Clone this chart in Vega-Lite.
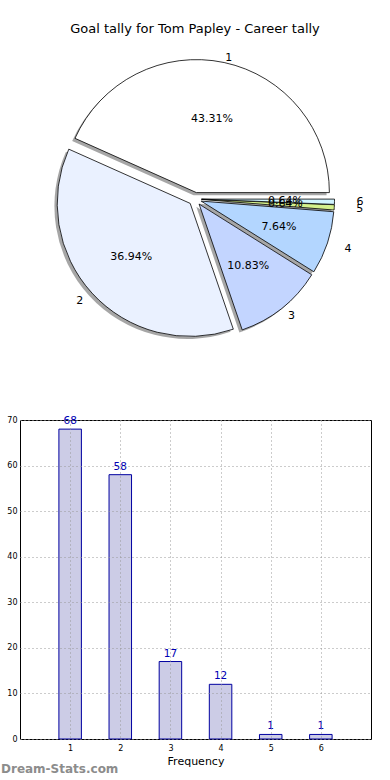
{
  "$schema": "https://vega.github.io/schema/vega-lite/v6.json",
  "padding": {"top": 22, "left": 0, "right": 0, "bottom": 0},
  "spacing": 66,
  "config": {
    "font": "DejaVu Sans",
    "view": {"stroke": null},
    "title": {"fontSize": 13, "fontWeight": "normal", "color": "black"}
  },
  "datasets": {
    "goals": [
      {"k": 1, "v": 68, "p": 0.4331},
      {"k": 2, "v": 58, "p": 0.3694},
      {"k": 3, "v": 17, "p": 0.1083},
      {"k": 4, "v": 12, "p": 0.0764},
      {"k": 5, "v": 1, "p": 0.0064},
      {"k": 6, "v": 1, "p": 0.0064}
    ]
  },
  "vconcat": [
    {
      "width": 350,
      "height": 300,
      "title": {"text": "Goal tally for Tom Papley - Career tally", "anchor": "middle", "frame": "group", "offset": 6},
      "data": {"name": "goals"},
      "transform": [
        {"stack": "v", "groupby": [], "as": ["s0", "s1"], "sort": [{"field": "k", "order": "ascending"}]}
      ],
      "layer": [
        {"transform": [{"filter": "datum.k==1"}], "mark": {"type": "arc", "radius": 133, "fill": "black", "opacity": 0.35, "xOffset": -1.4, "yOffset": -3.8},
         "encoding": {"theta": {"field": "s0", "type": "quantitative", "scale": {"domain": [0, 157], "range": [1.5707963, -4.712389]}}, "theta2": {"field": "s1"}}},
        {"transform": [{"filter": "datum.k==2"}], "mark": {"type": "arc", "radius": 133, "fill": "black", "opacity": 0.35, "xOffset": -7.6, "yOffset": 7.0},
         "encoding": {"theta": {"field": "s0", "type": "quantitative", "scale": {"domain": [0, 157], "range": [1.5707963, -4.712389]}}, "theta2": {"field": "s1"}}},
        {"transform": [{"filter": "datum.k==3"}], "mark": {"type": "arc", "radius": 133, "fill": "black", "opacity": 0.35, "xOffset": 1.3, "yOffset": 7.7},
         "encoding": {"theta": {"field": "s0", "type": "quantitative", "scale": {"domain": [0, 157], "range": [1.5707963, -4.712389]}}, "theta2": {"field": "s1"}}},
        {"transform": [{"filter": "datum.k==4"}], "mark": {"type": "arc", "radius": 133, "fill": "black", "opacity": 0.35, "xOffset": 3.4, "yOffset": 4.7},
         "encoding": {"theta": {"field": "s0", "type": "quantitative", "scale": {"domain": [0, 157], "range": [1.5707963, -4.712389]}}, "theta2": {"field": "s1"}}},
        {"transform": [{"filter": "datum.k==5"}], "mark": {"type": "arc", "radius": 133, "fill": "black", "opacity": 0.35, "xOffset": 3.7, "yOffset": 3.0},
         "encoding": {"theta": {"field": "s0", "type": "quantitative", "scale": {"domain": [0, 157], "range": [1.5707963, -4.712389]}}, "theta2": {"field": "s1"}}},
        {"transform": [{"filter": "datum.k==6"}], "mark": {"type": "arc", "radius": 133, "fill": "black", "opacity": 0.35, "xOffset": 3.7, "yOffset": 2.7},
         "encoding": {"theta": {"field": "s0", "type": "quantitative", "scale": {"domain": [0, 157], "range": [1.5707963, -4.712389]}}, "theta2": {"field": "s1"}}},

        {"transform": [{"filter": "datum.k==1"}], "mark": {"type": "arc", "radius": 133, "stroke": "black", "strokeWidth": 0.8, "opacity": 1, "xOffset": 1.4, "yOffset": -6.4},
         "encoding": {"theta": {"field": "s0", "type": "quantitative", "scale": {"domain": [0, 157], "range": [1.5707963, -4.712389]}}, "theta2": {"field": "s1"},
                      "color": {"field": "k", "type": "nominal", "scale": {"domain": [1, 2, 3, 4, 5, 6], "range": ["#ffffff", "#eaf1ff", "#c3d5ff", "#b3d6ff", "#d4f08c", "#d0f4ff"]}, "legend": null}}},
        {"transform": [{"filter": "datum.k==2"}], "mark": {"type": "arc", "radius": 133, "stroke": "black", "strokeWidth": 0.8, "opacity": 1, "xOffset": -4.8, "yOffset": 4.4},
         "encoding": {"theta": {"field": "s0", "type": "quantitative", "scale": {"domain": [0, 157], "range": [1.5707963, -4.712389]}}, "theta2": {"field": "s1"},
                      "color": {"field": "k", "type": "nominal", "legend": null}}},
        {"transform": [{"filter": "datum.k==3"}], "mark": {"type": "arc", "radius": 133, "stroke": "black", "strokeWidth": 0.8, "opacity": 1, "xOffset": 4.1, "yOffset": 5.1},
         "encoding": {"theta": {"field": "s0", "type": "quantitative", "scale": {"domain": [0, 157], "range": [1.5707963, -4.712389]}}, "theta2": {"field": "s1"},
                      "color": {"field": "k", "type": "nominal", "legend": null}}},
        {"transform": [{"filter": "datum.k==4"}], "mark": {"type": "arc", "radius": 133, "stroke": "black", "strokeWidth": 0.8, "opacity": 1, "xOffset": 6.2, "yOffset": 2.1},
         "encoding": {"theta": {"field": "s0", "type": "quantitative", "scale": {"domain": [0, 157], "range": [1.5707963, -4.712389]}}, "theta2": {"field": "s1"},
                      "color": {"field": "k", "type": "nominal", "legend": null}}},
        {"transform": [{"filter": "datum.k==5"}], "mark": {"type": "arc", "radius": 133, "stroke": "black", "strokeWidth": 0.8, "opacity": 1, "xOffset": 6.5, "yOffset": 0.4},
         "encoding": {"theta": {"field": "s0", "type": "quantitative", "scale": {"domain": [0, 157], "range": [1.5707963, -4.712389]}}, "theta2": {"field": "s1"},
                      "color": {"field": "k", "type": "nominal", "legend": null}}},
        {"transform": [{"filter": "datum.k==6"}], "mark": {"type": "arc", "radius": 133, "stroke": "black", "strokeWidth": 0.8, "opacity": 1, "xOffset": 6.5, "yOffset": 0.1},
         "encoding": {"theta": {"field": "s0", "type": "quantitative", "scale": {"domain": [0, 157], "range": [1.5707963, -4.712389]}}, "theta2": {"field": "s1"},
                      "color": {"field": "k", "type": "nominal", "legend": null}}},

        {"mark": {"type": "text", "radius": 75, "fontSize": 11, "color": "black", "xOffset": 1.4, "yOffset": -6.4},
         "encoding": {"theta": {"field": "v", "type": "quantitative", "stack": true, "scale": {"domain": [0, 157], "range": [1.5707963, -4.712389]}}, "order": {"field": "k"}, "detail": {"field": "k", "type": "nominal"},
                      "text": {"condition": {"test": "datum.k==1", "field": "p", "format": ".2%"}, "value": ""}}},
        {"mark": {"type": "text", "radius": 80, "fontSize": 11, "color": "black", "xOffset": -4.8, "yOffset": 4.4},
         "encoding": {"theta": {"field": "v", "type": "quantitative", "stack": true, "scale": {"domain": [0, 157], "range": [1.5707963, -4.712389]}}, "order": {"field": "k"}, "detail": {"field": "k", "type": "nominal"},
                      "text": {"condition": {"test": "datum.k==2", "field": "p", "format": ".2%"}, "value": ""}}},
        {"mark": {"type": "text", "radius": 79, "fontSize": 11, "color": "black", "xOffset": 4.1, "yOffset": 5.1},
         "encoding": {"theta": {"field": "v", "type": "quantitative", "stack": true, "scale": {"domain": [0, 157], "range": [1.5707963, -4.712389]}}, "order": {"field": "k"}, "detail": {"field": "k", "type": "nominal"},
                      "text": {"condition": {"test": "datum.k==3", "field": "p", "format": ".2%"}, "value": ""}}},
        {"mark": {"type": "text", "radius": 82, "fontSize": 11, "color": "black", "xOffset": 6.2, "yOffset": 2.1},
         "encoding": {"theta": {"field": "v", "type": "quantitative", "stack": true, "scale": {"domain": [0, 157], "range": [1.5707963, -4.712389]}}, "order": {"field": "k"}, "detail": {"field": "k", "type": "nominal"},
                      "text": {"condition": {"test": "datum.k==4", "field": "p", "format": ".2%"}, "value": ""}}},
        {"mark": {"type": "text", "radius": 84, "fontSize": 11, "color": "black", "xOffset": 6.5, "yOffset": 0.4},
         "encoding": {"theta": {"field": "v", "type": "quantitative", "stack": true, "scale": {"domain": [0, 157], "range": [1.5707963, -4.712389]}}, "order": {"field": "k"}, "detail": {"field": "k", "type": "nominal"},
                      "text": {"condition": {"test": "datum.k==5", "field": "p", "format": ".2%"}, "value": ""}}},
        {"mark": {"type": "text", "radius": 84, "fontSize": 11, "color": "black", "xOffset": 6.5, "yOffset": 0.1},
         "encoding": {"theta": {"field": "v", "type": "quantitative", "stack": true, "scale": {"domain": [0, 157], "range": [1.5707963, -4.712389]}}, "order": {"field": "k"}, "detail": {"field": "k", "type": "nominal"},
                      "text": {"condition": {"test": "datum.k==6", "field": "p", "format": ".2%"}, "value": ""}}},

        {"mark": {"type": "text", "radius": 138, "fontSize": 11, "color": "black", "align": "left", "xOffset": 1.4, "yOffset": -6.4},
         "encoding": {"theta": {"field": "v", "type": "quantitative", "stack": true, "scale": {"domain": [0, 157], "range": [1.5707963, -4.712389]}}, "order": {"field": "k"}, "detail": {"field": "k", "type": "nominal"},
                      "text": {"condition": {"test": "datum.k==1", "field": "k"}, "value": ""}}},
        {"mark": {"type": "text", "radius": 145, "fontSize": 11, "color": "black", "align": "right", "xOffset": -4.8, "yOffset": 4.4},
         "encoding": {"theta": {"field": "v", "type": "quantitative", "stack": true, "scale": {"domain": [0, 157], "range": [1.5707963, -4.712389]}}, "order": {"field": "k"}, "detail": {"field": "k", "type": "nominal"},
                      "text": {"condition": {"test": "datum.k==2", "field": "k"}, "value": ""}}},
        {"mark": {"type": "text", "radius": 143, "fontSize": 11, "color": "black", "align": "left", "xOffset": 4.1, "yOffset": 5.1},
         "encoding": {"theta": {"field": "v", "type": "quantitative", "stack": true, "scale": {"domain": [0, 157], "range": [1.5707963, -4.712389]}}, "order": {"field": "k"}, "detail": {"field": "k", "type": "nominal"},
                      "text": {"condition": {"test": "datum.k==3", "field": "k"}, "value": ""}}},
        {"mark": {"type": "text", "radius": 151, "fontSize": 11, "color": "black", "align": "left", "xOffset": 6.2, "yOffset": 2.1},
         "encoding": {"theta": {"field": "v", "type": "quantitative", "stack": true, "scale": {"domain": [0, 157], "range": [1.5707963, -4.712389]}}, "order": {"field": "k"}, "detail": {"field": "k", "type": "nominal"},
                      "text": {"condition": {"test": "datum.k==4", "field": "k"}, "value": ""}}},
        {"mark": {"type": "text", "radius": 155, "fontSize": 11, "color": "black", "align": "left", "xOffset": 6.5, "yOffset": 0.4},
         "encoding": {"theta": {"field": "v", "type": "quantitative", "stack": true, "scale": {"domain": [0, 157], "range": [1.5707963, -4.712389]}}, "order": {"field": "k"}, "detail": {"field": "k", "type": "nominal"},
                      "text": {"condition": {"test": "datum.k==5", "field": "k"}, "value": ""}}},
        {"mark": {"type": "text", "radius": 155, "fontSize": 11, "color": "black", "align": "left", "xOffset": 6.5, "yOffset": 0.1},
         "encoding": {"theta": {"field": "v", "type": "quantitative", "stack": true, "scale": {"domain": [0, 157], "range": [1.5707963, -4.712389]}}, "order": {"field": "k"}, "detail": {"field": "k", "type": "nominal"},
                      "text": {"condition": {"test": "datum.k==6", "field": "k"}, "value": ""}}}
      ]
    },
    {
      "width": 351,
      "height": 319,
      "view": {"stroke": "black", "strokeWidth": 1},
      "title": {"text": "Dream-Stats.com", "orient": "bottom", "anchor": "start", "frame": "group", "dx": -19, "offset": -2, "fontSize": 12, "fontWeight": "bold", "color": "#8c8c8c"},
      "data": {"name": "goals"},
      "encoding": {
        "x": {"field": "k", "type": "quantitative", "scale": {"domain": [0, 7], "nice": false, "padding": 0},
              "axis": {"values": [1, 2, 3, 4, 5, 6], "grid": true, "gridDash": [1, 3], "gridColor": "#999999", "ticks": false, "domain": false, "labelFontSize": 8, "labelColor": "black", "labelPadding": 5, "title": "Frequency", "titleFontSize": 11, "titleFontWeight": "normal", "titleColor": "black", "titlePadding": 3, "zindex": 1}},
        "y": {"field": "v", "type": "quantitative", "scale": {"domain": [0, 70], "nice": false, "padding": 0},
              "axis": {"values": [0, 10, 20, 30, 40, 50, 60, 70], "grid": true, "gridDash": [1, 3], "gridColor": "#999999", "ticks": false, "domain": false, "labelFontSize": 8, "labelColor": "black", "labelPadding": 3, "title": null, "zindex": 1}}
      },
      "layer": [
        {"mark": {"type": "bar", "width": 22.5, "fill": "navy", "fillOpacity": 0.2, "stroke": "#0000a0", "strokeWidth": 1}},
        {"mark": {"type": "text", "baseline": "alphabetic", "dy": -5, "fontSize": 10.5, "color": "#0000b4"}, "encoding": {"text": {"field": "v"}}}
      ]
    }
  ]
}
